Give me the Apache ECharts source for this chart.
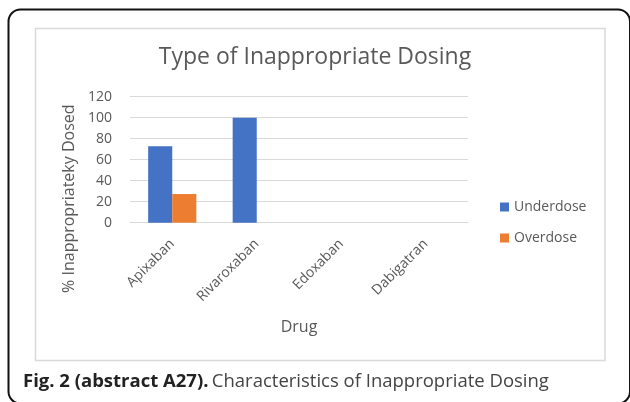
<!DOCTYPE html>
<html>
<head>
<meta charset="utf-8">
<script src="https://cdn.jsdelivr.net/npm/echarts@6/dist/echarts.min.js"></script>
<style>
  html, body { margin: 0; padding: 0; background: #fff; }
  #chart { width: 630px; height: 402px; }
</style>
</head>
<body>
<div id="chart"></div>
<script>
// chart data
const drugs = ['Apixaban', 'Rivaroxaban', 'Edoxaban', 'Dabigatran']
const underdose = [72.7, 100, 0, 0]
const overdose = [27.3, 0, 0, 0]
const yTicks = [0, 20, 40, 60, 80, 100, 120]

const font = 'Open Sans'
const grey = '#595959'

const chart = echarts.init(document.getElementById('chart'), null, { renderer: 'canvas' })

const option = {
  backgroundColor: '#fff',
  animation: false,
  color: ['#4472C4', '#ED7D31'],
  title: {
    text: 'Type of Inappropriate Dosing',
    left: 'center',
    top: 41,
    textStyle: { fontFamily: font, fontSize: 23, fontWeight: 'normal', color: grey }
  },
  legend: {
    orient: 'vertical',
    left: 495,
    top: 195,
    itemWidth: 9,
    itemHeight: 9,
    itemGap: 17,
    icon: 'rect',
    textStyle: { fontFamily: font, fontSize: 14, color: grey },
    data: ['Underdose', 'Overdose']
  },
  grid: {
    left: 130,
    right: 162,
    top: 96.7,
    bottom: 179.3,
    containLabel: false
  },
  xAxis: {
    type: 'category',
    data: drugs,
    name: 'Drug',
    nameLocation: 'middle',
    nameGap: 97,
    nameTextStyle: { fontFamily: font, fontSize: 16, color: grey },
    axisLine: { lineStyle: { color: '#d9d9d9', width: 1 } },
    axisTick: { show: false },
    axisLabel: {
      interval: 0,
      rotate: 45,
      margin: 19,
      fontFamily: font,
      fontSize: 14,
      color: grey
    }
  },
  yAxis: {
    type: 'value',
    min: yTicks[0],
    max: yTicks[yTicks.length - 1],
    interval: yTicks[1] - yTicks[0],
    name: '% Inappropriateky Dosed',
    nameLocation: 'middle',
    nameGap: 49,
    nameTextStyle: {
      fontFamily: font,
      fontSize: 16,
      color: grey,
      padding: [0, 78, 0, 0]
    },
    axisLine: { show: false },
    axisTick: { show: false },
    axisLabel: { fontFamily: font, fontSize: 14, color: grey, margin: 18 },
    splitLine: { lineStyle: { color: '#d9d9d9', width: 1 } }
  },
  series: [
    {
      name: 'Underdose',
      type: 'bar',
      data: underdose,
      barGap: '0%',
      barCategoryGap: '43%'
    },
    {
      name: 'Overdose',
      type: 'bar',
      data: overdose,
      barGap: '0%',
      barCategoryGap: '43%'
    }
  ],
  graphic: [
    // outer rounded frame, runs off the right and bottom edges
    {
      type: 'rect',
      shape: { x: 8.5, y: 9.5, width: 621.5, height: 394, r: 12 },
      style: { fill: 'none', stroke: '#111', lineWidth: 2 },
      silent: true,
      z: 100
    },
    // inner chart box
    {
      type: 'rect',
      shape: { x: 35.5, y: 28.5, width: 569.5, height: 332 },
      style: { fill: 'none', stroke: '#d9d9d9', lineWidth: 1.5 },
      silent: true,
      z: 100
    },
    // caption
    {
      type: 'text',
      left: 23,
      top: 372,
      style: {
        text: '{b|Fig. 2 (abstract A27).} {r|Characteristics of Inappropriate Dosing}',
        rich: {
          b: { fontFamily: font, fontSize: 18.5, fontWeight: 'bold', fill: '#222' },
          r: { fontFamily: font, fontSize: 18.5, fill: '#444' }
        }
      },
      z: 100
    }
  ]
}

chart.setOption(option)
</script>
</body>
</html>
